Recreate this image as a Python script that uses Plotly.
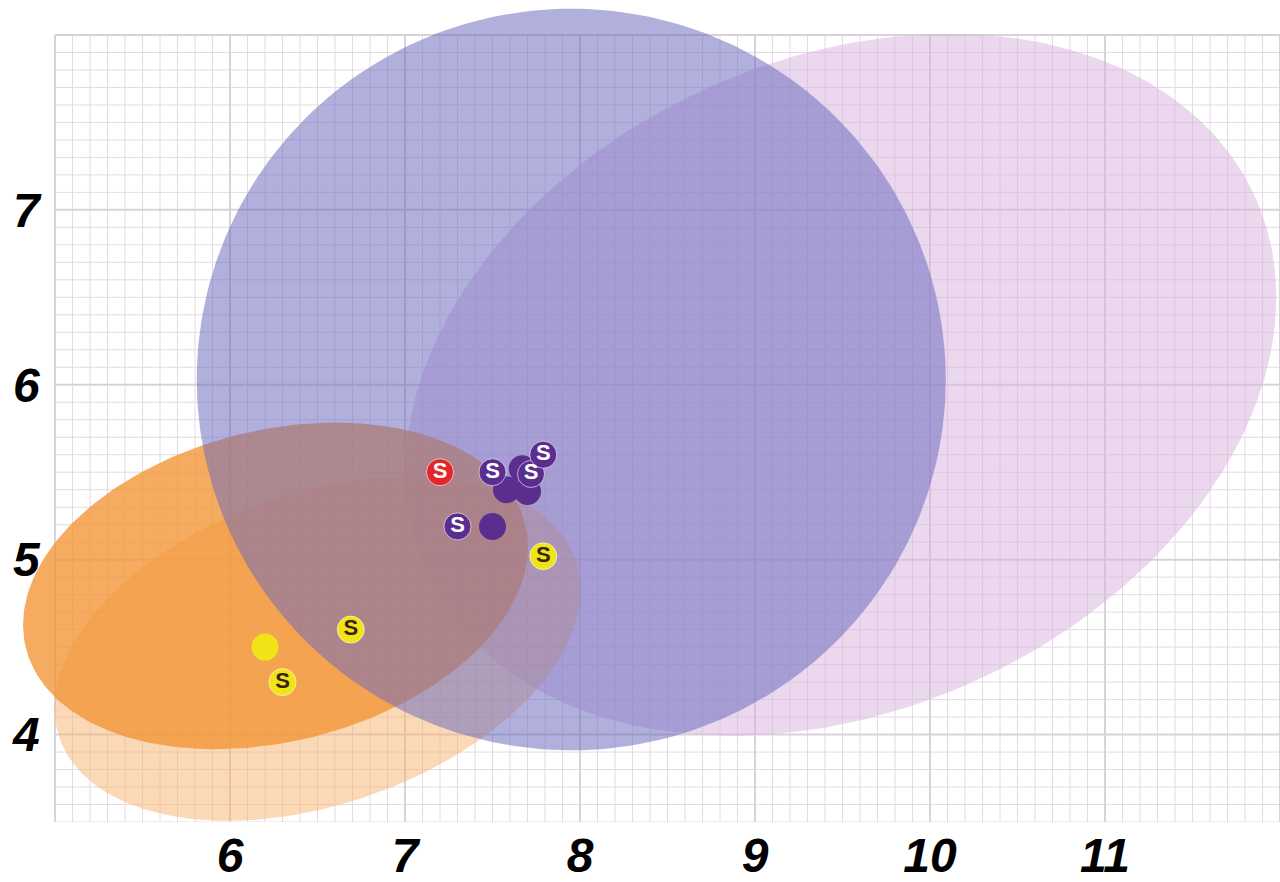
import numpy as np
import plotly.graph_objects as go

# ---------------- data ----------------
x_tick_vals = [6, 7, 8, 9, 10, 11]
x_tick_text = ["6", "7", "8", "9", "10", "11"]
y_tick_vals = [4, 5, 6, 7]
y_tick_text = ["4", "5", "6", "7"]

# ellipses (drawn bottom -> top)
ell_name = ["pink", "peach", "orange", "blue"]
ell_cx = [9.49, 6.50, 6.26, 7.95]
ell_cy = [6.00, 4.49, 4.85, 6.03]
ell_a = [2.60, 1.56, 1.47, 2.14]
ell_b = [1.86, 0.89, 0.89, 2.12]
ell_angle = [24.5, 19.0, 14.0, 0.0]
ell_color = ["rgba(215,178,222,0.50)", "rgba(248,180,110,0.50)",
             "rgba(243,150,56,0.80)", "rgba(105,103,190,0.52)"]

# points
pt_x = [7.58, 7.70, 7.67, 7.50, 6.20,
        7.20, 7.50, 7.72, 7.79, 7.30, 7.79, 6.69, 6.30]
pt_y = [5.40, 5.39, 5.52, 5.19, 4.50,
        5.50, 5.50, 5.49, 5.60, 5.19, 5.02, 4.60, 4.30]
pt_group = ["purple", "purple", "purple", "purple", "yellow",
            "red", "purple", "purple", "purple", "purple", "yellow", "yellow", "yellow"]
pt_label = ["", "", "", "", "",
            "S", "S", "S", "S", "S", "S", "S", "S"]

group_color = {"purple": "#5b2d8e", "red": "#e4262a", "yellow": "#f0e417"}
group_text = {"purple": "white", "red": "white", "yellow": "#3a2410"}

grid_x = (5.0, 12.0)
grid_y = (3.5, 8.0)

# ---------------- figure ----------------
fig = go.Figure()

# grid (drawn manually so it stops at the grid box)
def grid_trace(major, color, width):
    xs, ys = [], []
    n_x = int(round((grid_x[1] - grid_x[0]) * 10))
    n_y = int(round((grid_y[1] - grid_y[0]) * 10))
    for i in range(n_x + 1):
        v = grid_x[0] + i / 10
        is_major = abs(v - round(v)) < 1e-9
        if is_major == major:
            xs += [v, v, None]
            ys += [grid_y[0], grid_y[1], None]
    for j in range(n_y + 1):
        v = grid_y[0] + j / 10
        is_major = abs(v - round(v)) < 1e-9
        if is_major == major:
            xs += [grid_x[0], grid_x[1], None]
            ys += [v, v, None]
    return go.Scatter(x=xs, y=ys, mode="lines",
                      line=dict(color=color, width=width),
                      hoverinfo="skip", showlegend=False)

fig.add_trace(grid_trace(False, "rgb(225,220,225)", 1))
fig.add_trace(grid_trace(True, "rgb(216,211,216)", 2))

# ellipses
t = np.linspace(0, 2 * np.pi, 241)
for name, cx, cy, a, b, ang, col in zip(ell_name, ell_cx, ell_cy, ell_a, ell_b,
                                         ell_angle, ell_color):
    th = np.deg2rad(ang)
    ex = cx + a * np.cos(t) * np.cos(th) - b * np.sin(t) * np.sin(th)
    ey = cy + a * np.cos(t) * np.sin(th) + b * np.sin(t) * np.cos(th)
    fig.add_trace(go.Scatter(x=ex, y=ey, mode="lines", fill="toself",
                             fillcolor=col, line=dict(width=0, color=col),
                             name=name, hoverinfo="skip", showlegend=False))

# points
fig.add_trace(go.Scatter(
    x=pt_x, y=pt_y, mode="markers+text",
    text=pt_label, textposition="middle center",
    textfont=dict(family="Liberation Sans, Arial, sans-serif", size=22,
                  weight="bold",
                  color=[group_text[g] for g in pt_group]),
    marker=dict(size=27, color=[group_color[g] for g in pt_group],
                line=dict(width=[0 if l == "" else 1 for l in pt_label],
                          color="rgba(255,255,255,0.6)")),
    showlegend=False, hoverinfo="skip"))

tick_font = dict(family="Liberation Sans, Arial, sans-serif", size=48,
                 color="black", weight="bold", style="italic")

fig.update_layout(
    width=1280, height=882,
    margin=dict(l=0, r=0, t=0, b=60),
    paper_bgcolor="white", plot_bgcolor="white",
    xaxis=dict(range=[5 - 55 / 175, 12], showgrid=False, zeroline=False,
               showline=False, ticks="", tickvals=x_tick_vals,
               ticktext=x_tick_text, tickfont=tick_font,
               ticklabelstandoff=1, automargin=False, fixedrange=True),
    yaxis=dict(range=[3.5, 8.2], showgrid=False, zeroline=False,
               showline=False, ticks="", tickvals=y_tick_vals,
               ticktext=y_tick_text, tickfont=tick_font,
               ticklabelposition="inside", ticklabelstandoff=10,
               automargin=False, fixedrange=True),
)

fig.write_html(
    "out.html",
    config={"displayModeBar": False},
    post_script="document.body.style.margin='0px';"
                "document.body.style.overflow='hidden';",
)
